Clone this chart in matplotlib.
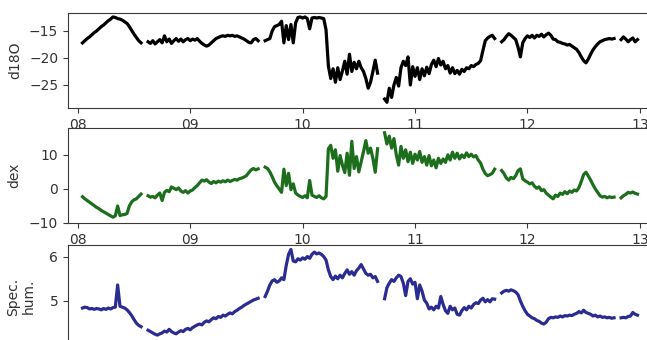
import numpy as np
import pandas as pd
import matplotlib
matplotlib.use("Agg")
import matplotlib.pyplot as plt

nan = np.nan

# half-hourly record, 08 01:00 -> 12 23:30 (gaps are nan)
times = pd.date_range("2021-08-08 01:00", periods=238, freq="30min")
day_ticks = pd.date_range("2021-08-08", periods=6, freq="D")
day_labels = ["08", "09", "10", "11", "12", "13"]

d18o = [
    -17.2, -16.8, -16.4, -16.1, -15.7, -15.3, -15.0, -14.6, -14.2, -13.9,
    -13.5, -13.1, -12.8, -12.4, -12.5, -12.7, -12.8, -13.0, -13.3, -13.6,
    -14.2, -14.9, -15.6, -16.2, -16.8, -17.2,
    nan, nan,
    -17.0, -17.3, -16.8, -17.4, -17.0, -16.6, -17.2, -15.9, -17.0, -16.5,
    -17.3, -16.8, -16.4, -16.9, -16.5, -17.0, -16.6, -16.4, -16.8, -16.5,
    -16.7, -16.4, -16.9, -17.3, -17.6, -17.8, -17.6, -17.2, -16.8, -16.4,
    -16.2, -16.0, -15.9, -16.0, -15.8, -15.9, -15.8, -16.0, -15.9, -16.1,
    -16.3, -16.5, -16.8, -17.1, -17.2, -16.6, -16.4, -16.8,
    nan, nan,
    -16.8, -16.6, -16.4, -15.0, -14.2, -14.0, -13.8, -13.2, -17.2, -14.0,
    -16.6, -13.8, -17.2, -13.5, -12.5, -12.4, -12.6, -12.4, -12.7, -14.6,
    -12.6, -12.5, -12.6, -12.5, -12.6, -12.7, -14.8, -21.5, -23.8, -22.0,
    -24.5, -21.8, -24.0, -22.4, -20.6, -23.0, -19.3, -22.5, -20.8, -22.0,
    -20.6, -21.8, -22.5, -23.8, -25.6, -24.5, -22.5, -20.4, -22.8,
    nan, nan,
    -27.6, -28.2, -25.6, -27.3, -25.0, -23.6, -25.2, -21.8, -20.6, -21.4,
    -19.8, -25.0, -21.6, -23.4, -21.8, -24.0, -22.0, -23.3, -21.7, -22.9,
    -21.2, -20.4, -21.6, -20.1, -21.3, -20.6, -22.0, -21.4, -22.8, -21.8,
    -22.9, -22.3, -23.0, -22.1, -22.5, -21.8, -22.0, -21.4, -21.6, -21.2,
    -21.0, -20.5, -18.6, -16.8, -16.3, -16.0, -15.8, -16.4,
    nan, nan,
    -17.0, -16.6, -16.0, -15.5, -15.8, -16.2, -16.6, -18.0, -19.8, -17.2,
    -16.4, -15.9, -16.2, -15.8, -16.3, -15.8, -16.0, -15.6, -16.1, -15.7,
    -15.4, -15.8, -16.5, -16.6, -17.0, -17.1, -17.3, -17.4, -17.6, -17.5,
    -17.8, -18.1, -18.4, -19.0, -19.8, -20.5, -20.9, -20.2, -19.3, -18.5,
    -17.9, -17.4, -17.0, -16.8, -16.6, -16.5, -16.4, -16.5, -16.4,
    nan, nan,
    -16.6, -16.1, -16.5, -17.0, -16.6, -16.3, -17.0, -16.6,
]

dex = [
    -2.3, -2.9, -3.4, -3.9, -4.4, -4.9, -5.4, -5.8, -6.3, -6.7,
    -7.1, -7.5, -7.9, -8.3, -7.9, -5.0, -7.8, -7.6, -7.5, -7.2,
    -5.0, -3.8, -3.2, -2.9, -2.2, -1.5,
    nan, nan,
    -2.0, -2.4, -2.2, -2.6, -1.8, -1.2, -3.4, -1.0, -0.4, -0.8,
    0.6, 0.2, -0.2, 0.3, -0.6, -1.0, -0.5, -1.2, -0.6, -0.3,
    0.4, 1.0, 1.8, 2.6, 2.3, 2.7, 2.0, 1.6, 2.2, 1.8,
    2.3, 2.0, 2.4, 2.1, 2.6, 2.2, 2.5, 2.8, 2.6, 3.0,
    3.2, 3.5, 3.9, 4.8, 5.6, 6.0, 5.6, 5.9,
    nan, nan,
    6.4, 6.0, 5.0, 3.6, 2.0, 0.9, 0.0, -1.0, 5.8, 1.0,
    4.6, -0.2, 1.5, -1.2, -1.8, -2.2, -2.5, -2.0, -2.6, 2.5,
    -1.8, -2.2, -2.5, -2.0, -2.6, -2.9, -2.2, 11.8, 12.8, 9.0,
    11.5, 5.2, 9.8, 7.0, 4.8, 10.5, 4.0, 14.0, 6.0, 9.5,
    5.0, 8.0, 11.0, 14.2, 10.5, 12.0, 9.0, 4.9, 11.8,
    nan, nan,
    16.5, 13.2, 15.5, 12.0, 14.8, 10.0, 7.0, 12.5, 9.0, 11.5,
    8.0, 10.8, 7.5, 10.2, 8.5, 11.0, 7.8, 9.5, 7.0, 9.8,
    6.8, 8.5, 6.2, 9.0, 7.5, 8.8, 7.8, 10.0, 8.5, 10.8,
    9.0, 10.5, 8.8, 10.0, 9.2, 10.6, 9.5, 10.2, 9.4, 9.8,
    8.5, 7.6, 5.8, 4.5, 3.9, 4.2, 4.6, 5.8,
    nan, nan,
    5.4, 4.5, 3.2, 2.6, 3.4, 3.0, 3.9, 5.4, 5.9, 3.0,
    2.4, 2.0, 1.5, 1.8, 0.8, 0.2, 0.6, -0.5, -0.2, -1.2,
    -1.8, -2.4, -2.9, -1.8, -2.2, -1.2, -1.6, -0.8, -1.4, -0.6,
    -1.0, -0.3, -0.6, 0.4, 2.2, 4.2, 4.9, 3.8, 2.6, 1.2,
    0.0, -1.0, -2.0, -2.4, -2.2, -2.6, -2.3, -2.5, -2.4,
    nan, nan,
    -2.6, -2.0, -1.6, -1.0, -1.2, -0.9, -1.3, -1.5,
]

spec_hum = [
    4.84, 4.86, 4.85, 4.82, 4.83, 4.81, 4.83, 4.82, 4.80, 4.83,
    4.81, 4.84, 4.82, 4.85, 4.86, 5.36, 4.88, 4.86, 4.84, 4.80,
    4.74, 4.67, 4.58, 4.50, 4.45, 4.42,
    nan, nan,
    4.34, 4.31, 4.28, 4.25, 4.23, 4.26, 4.28, 4.32, 4.30, 4.36,
    4.31, 4.28, 4.26, 4.30, 4.33, 4.31, 4.36, 4.38, 4.35, 4.40,
    4.43, 4.46, 4.48, 4.46, 4.52, 4.55, 4.53, 4.58, 4.62, 4.60,
    4.65, 4.63, 4.68, 4.66, 4.70, 4.73, 4.71, 4.76, 4.79, 4.83,
    4.86, 4.90, 4.93, 4.96, 4.99, 5.02, 5.04, 5.06,
    nan, nan,
    5.10, 5.22, 5.36, 5.45, 5.48, 5.42, 5.45, 5.52, 5.48, 5.80,
    6.05, 6.16, 5.90, 5.88, 5.95, 5.92, 5.97, 5.94, 6.00, 5.96,
    6.05, 6.10, 6.06, 6.08, 6.05, 6.00, 5.92, 5.70, 5.55, 5.48,
    5.56, 5.50, 5.58, 5.52, 5.62, 5.70, 5.60, 5.66, 5.58, 5.68,
    5.74, 5.82, 5.72, 5.62, 5.58, 5.60, 5.52, 5.55, 5.44,
    nan, nan,
    5.05, 5.30, 5.40, 5.48, 5.44, 5.52, 5.58, 5.55, 5.40, 5.12,
    5.44, 5.50, 5.38, 5.42, 5.05, 5.36, 5.22, 5.02, 4.95, 4.82,
    4.86, 4.80, 4.88, 4.84, 5.10, 4.92, 4.78, 4.72, 4.88, 4.80,
    4.84, 4.70, 4.68, 4.78, 4.85, 4.80, 4.88, 4.84, 4.92, 4.96,
    4.94, 5.02, 5.06, 4.98, 5.03, 4.98, 5.05, 5.04,
    nan, nan,
    5.18, 5.22, 5.24, 5.22, 5.25, 5.23, 5.20, 5.14, 5.00, 4.88,
    4.78, 4.70, 4.66, 4.62, 4.60, 4.56, 4.54, 4.50, 4.48, 4.52,
    4.60, 4.63, 4.62, 4.64, 4.63, 4.66, 4.64, 4.67, 4.66, 4.68,
    4.67, 4.70, 4.72, 4.76, 4.73, 4.79, 4.74, 4.72, 4.70, 4.66,
    4.68, 4.64, 4.66, 4.63, 4.64, 4.62, 4.63, 4.61, 4.62,
    nan, nan,
    4.62, 4.63, 4.62, 4.65, 4.66, 4.74, 4.70, 4.68,
]

assert len(d18o) == len(dex) == len(spec_hum) == len(times)

W, H = 647, 340
fig = plt.figure(figsize=(W / 100, H / 100), dpi=100)
frame = "#3c3835"

# (values, colour, label, ylim, yticks, top px, bottom px, label x)
# the last panel runs past the bottom of the crop
panels = [
    (d18o, "black", "d18O", (-29.26, -11.67), [-25, -20, -15], 13, 108, -0.079),
    (dex, "#1c6e1c", "dex", (-9.9, 17.9), [-10, 0, 10], 128, 223, -0.080),
    (spec_hum, "#2a2c92", "Spec.\nhum.", (3.94, 6.26), [5, 6], 245, 348, -0.055),
]

x0, x1 = 68, 652
for vals, col, label, ylim, yticks, top, bot, lab_x in panels:
    ax = fig.add_axes([x0 / W, 1 - bot / H, (x1 - x0) / W, (bot - top) / H])
    ax.plot(times, vals, color=col, lw=2.3)
    ax.set_xlim(times[0] - pd.Timedelta(hours=3.1), times[-1] + pd.Timedelta(hours=3.1))
    ax.set_ylim(*ylim)
    ax.set_yticks(yticks)
    ax.set_xticks(day_ticks)
    ax.set_xticklabels(day_labels)
    ax.set_ylabel(label, fontsize=10, color="#333333")
    ax.yaxis.set_label_coords(lab_x, 0.5)
    for s in ax.spines.values():
        s.set_color(frame)
    ax.tick_params(colors=frame, labelcolor="#333333", labelsize=10)

fig.savefig("out.png", dpi=100, facecolor="white")
